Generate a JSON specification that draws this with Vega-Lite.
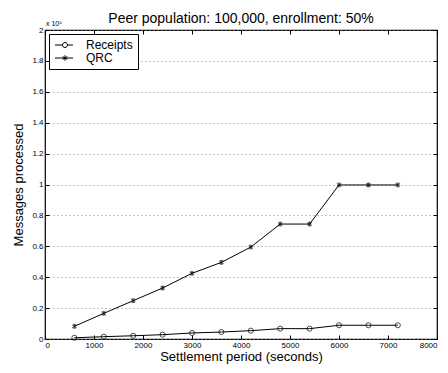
{
  "$schema": "https://vega.github.io/schema/vega-lite/v6.json",
  "autosize": "none",
  "width": 392,
  "height": 309,
  "padding": {"left": 45, "top": 30, "right": 11, "bottom": 34},
  "background": "white",
  "title": {"text": "Peer population: 100,000, enrollment: 50%", "fontSize": 14, "fontWeight": "normal", "font": "Liberation Sans", "color": "black", "offset": -6},
  "config": {
    "font": "Liberation Sans",
    "view": {"stroke": "black", "strokeWidth": 1.2},
    "axis": {"domain": false, "tickColor": "black", "labelColor": "black", "labelFontSize": 8, "titleFontWeight": "normal", "titleColor": "black", "titleFontSize": 13, "tickSize": -4}
  },
  "datasets": {
    "d": [
      {"t": 600, "series": "Receipts", "v": 8000},
      {"t": 1200, "series": "Receipts", "v": 15000},
      {"t": 1800, "series": "Receipts", "v": 21000},
      {"t": 2400, "series": "Receipts", "v": 28000},
      {"t": 3000, "series": "Receipts", "v": 39000},
      {"t": 3600, "series": "Receipts", "v": 45000},
      {"t": 4200, "series": "Receipts", "v": 54000},
      {"t": 4800, "series": "Receipts", "v": 67000},
      {"t": 5400, "series": "Receipts", "v": 67000},
      {"t": 6000, "series": "Receipts", "v": 89000},
      {"t": 6600, "series": "Receipts", "v": 89000},
      {"t": 7200, "series": "Receipts", "v": 89000},
      {"t": 600, "series": "QRC", "v": 82000},
      {"t": 1200, "series": "QRC", "v": 166000},
      {"t": 1800, "series": "QRC", "v": 248000},
      {"t": 2400, "series": "QRC", "v": 330000},
      {"t": 3000, "series": "QRC", "v": 425000},
      {"t": 3600, "series": "QRC", "v": 496000},
      {"t": 4200, "series": "QRC", "v": 595000},
      {"t": 4800, "series": "QRC", "v": 744000},
      {"t": 5400, "series": "QRC", "v": 744000},
      {"t": 6000, "series": "QRC", "v": 997000},
      {"t": 6600, "series": "QRC", "v": 997000},
      {"t": 7200, "series": "QRC", "v": 997000}
    ],
    "note": [{"t": 0, "v": 2000000, "label": "x 10⁶"}]
  },
  "resolve": {"axis": {"x": "independent", "y": "independent"}, "scale": {"shape": "independent"}},
  "layer": [
    {
      "data": {"name": "d"},
      "mark": {"type": "line", "color": "black", "strokeWidth": 1},
      "encoding": {
        "x": {"field": "t", "type": "quantitative", "scale": {"domain": [0, 8000], "nice": false}, "axis": {"orient": "bottom", "values": [0,1000,2000,3000,4000,5000,6000,7000,8000], "format": "d", "title": "Settlement period (seconds)", "grid": false, "labelPadding": 6, "titlePadding": 1}},
        "y": {"field": "v", "type": "quantitative", "scale": {"domain": [0, 2000000], "nice": false}, "axis": {"orient": "left", "values": [0,200000,400000,600000,800000,1000000,1200000,1400000,1600000,1800000,2000000], "labelExpr": "format(datum.value/1000000, '')", "title": "Messages processed", "grid": true, "gridDash": [1, 3], "gridColor": "#888", "labelPadding": 6, "titlePadding": 6}},
        "detail": {"field": "series"}
      }
    },
    {
      "data": {"name": "d"},
      "mark": {"type": "point", "color": "black", "filled": false, "strokeWidth": 1, "size": 26},
      "encoding": {
        "x": {"field": "t", "type": "quantitative", "axis": {"orient": "top", "values": [0,1000,2000,3000,4000,5000,6000,7000,8000], "labels": false, "title": null, "grid": false}},
        "y": {"field": "v", "type": "quantitative", "axis": {"orient": "right", "values": [0,200000,400000,600000,800000,1000000,1200000,1400000,1600000,1800000,2000000], "labels": false, "title": null, "grid": false}},
        "shape": {
          "field": "series", "type": "nominal",
          "scale": {"domain": ["Receipts", "QRC"], "range": ["circle", "M0,-1L0,1M-0.87,-0.5L0.87,0.5M-0.87,0.5L0.87,-0.5M-0.5,-0.87L0.5,0.87M-0.5,0.87L0.5,-0.87"]},
          "legend": null
        }
      }
    },
    {
      "data": {"name": "d"},
      "mark": {"type": "point", "color": "black", "filled": false, "strokeWidth": 1, "size": 100, "opacity": 0},
      "encoding": {
        "x": {"field": "t", "type": "quantitative", "axis": null},
        "y": {"field": "v", "type": "quantitative", "axis": null},
        "shape": {
          "field": "series", "type": "nominal",
          "scale": {"domain": ["Receipts", "QRC"], "range": [
            "M-1,0L0.5,0M1.5,0L2.6,0M1.5,0A0.5,0.5,0,1,1,0.5,0A0.5,0.5,0,1,1,1.5,0",
            "M-1,0L2.6,0M1,-0.55L1,0.55M0.52,-0.28L1.48,0.28M0.52,0.28L1.48,-0.28"
          ]},
          "legend": {
            "title": null, "orient": "none", "legendX": 4, "legendY": 4,
            "strokeColor": "black", "fillColor": "white", "padding": 5,
            "labelFontSize": 12, "labelColor": "black", "symbolSize": 100, "symbolStrokeWidth": 1,
            "symbolStrokeColor": "black", "symbolFillColor": "transparent", "symbolOpacity": 1,
            "rowPadding": 1, "labelOffset": 20
          }
        }
      }
    },
    {
      "data": {"name": "note"},
      "mark": {"type": "text", "align": "left", "baseline": "bottom", "dy": -3, "dx": 1, "fontSize": 7, "color": "black"},
      "encoding": {
        "x": {"field": "t", "type": "quantitative", "axis": null},
        "y": {"field": "v", "type": "quantitative", "axis": null},
        "text": {"field": "label"}
      }
    }
  ]
}
